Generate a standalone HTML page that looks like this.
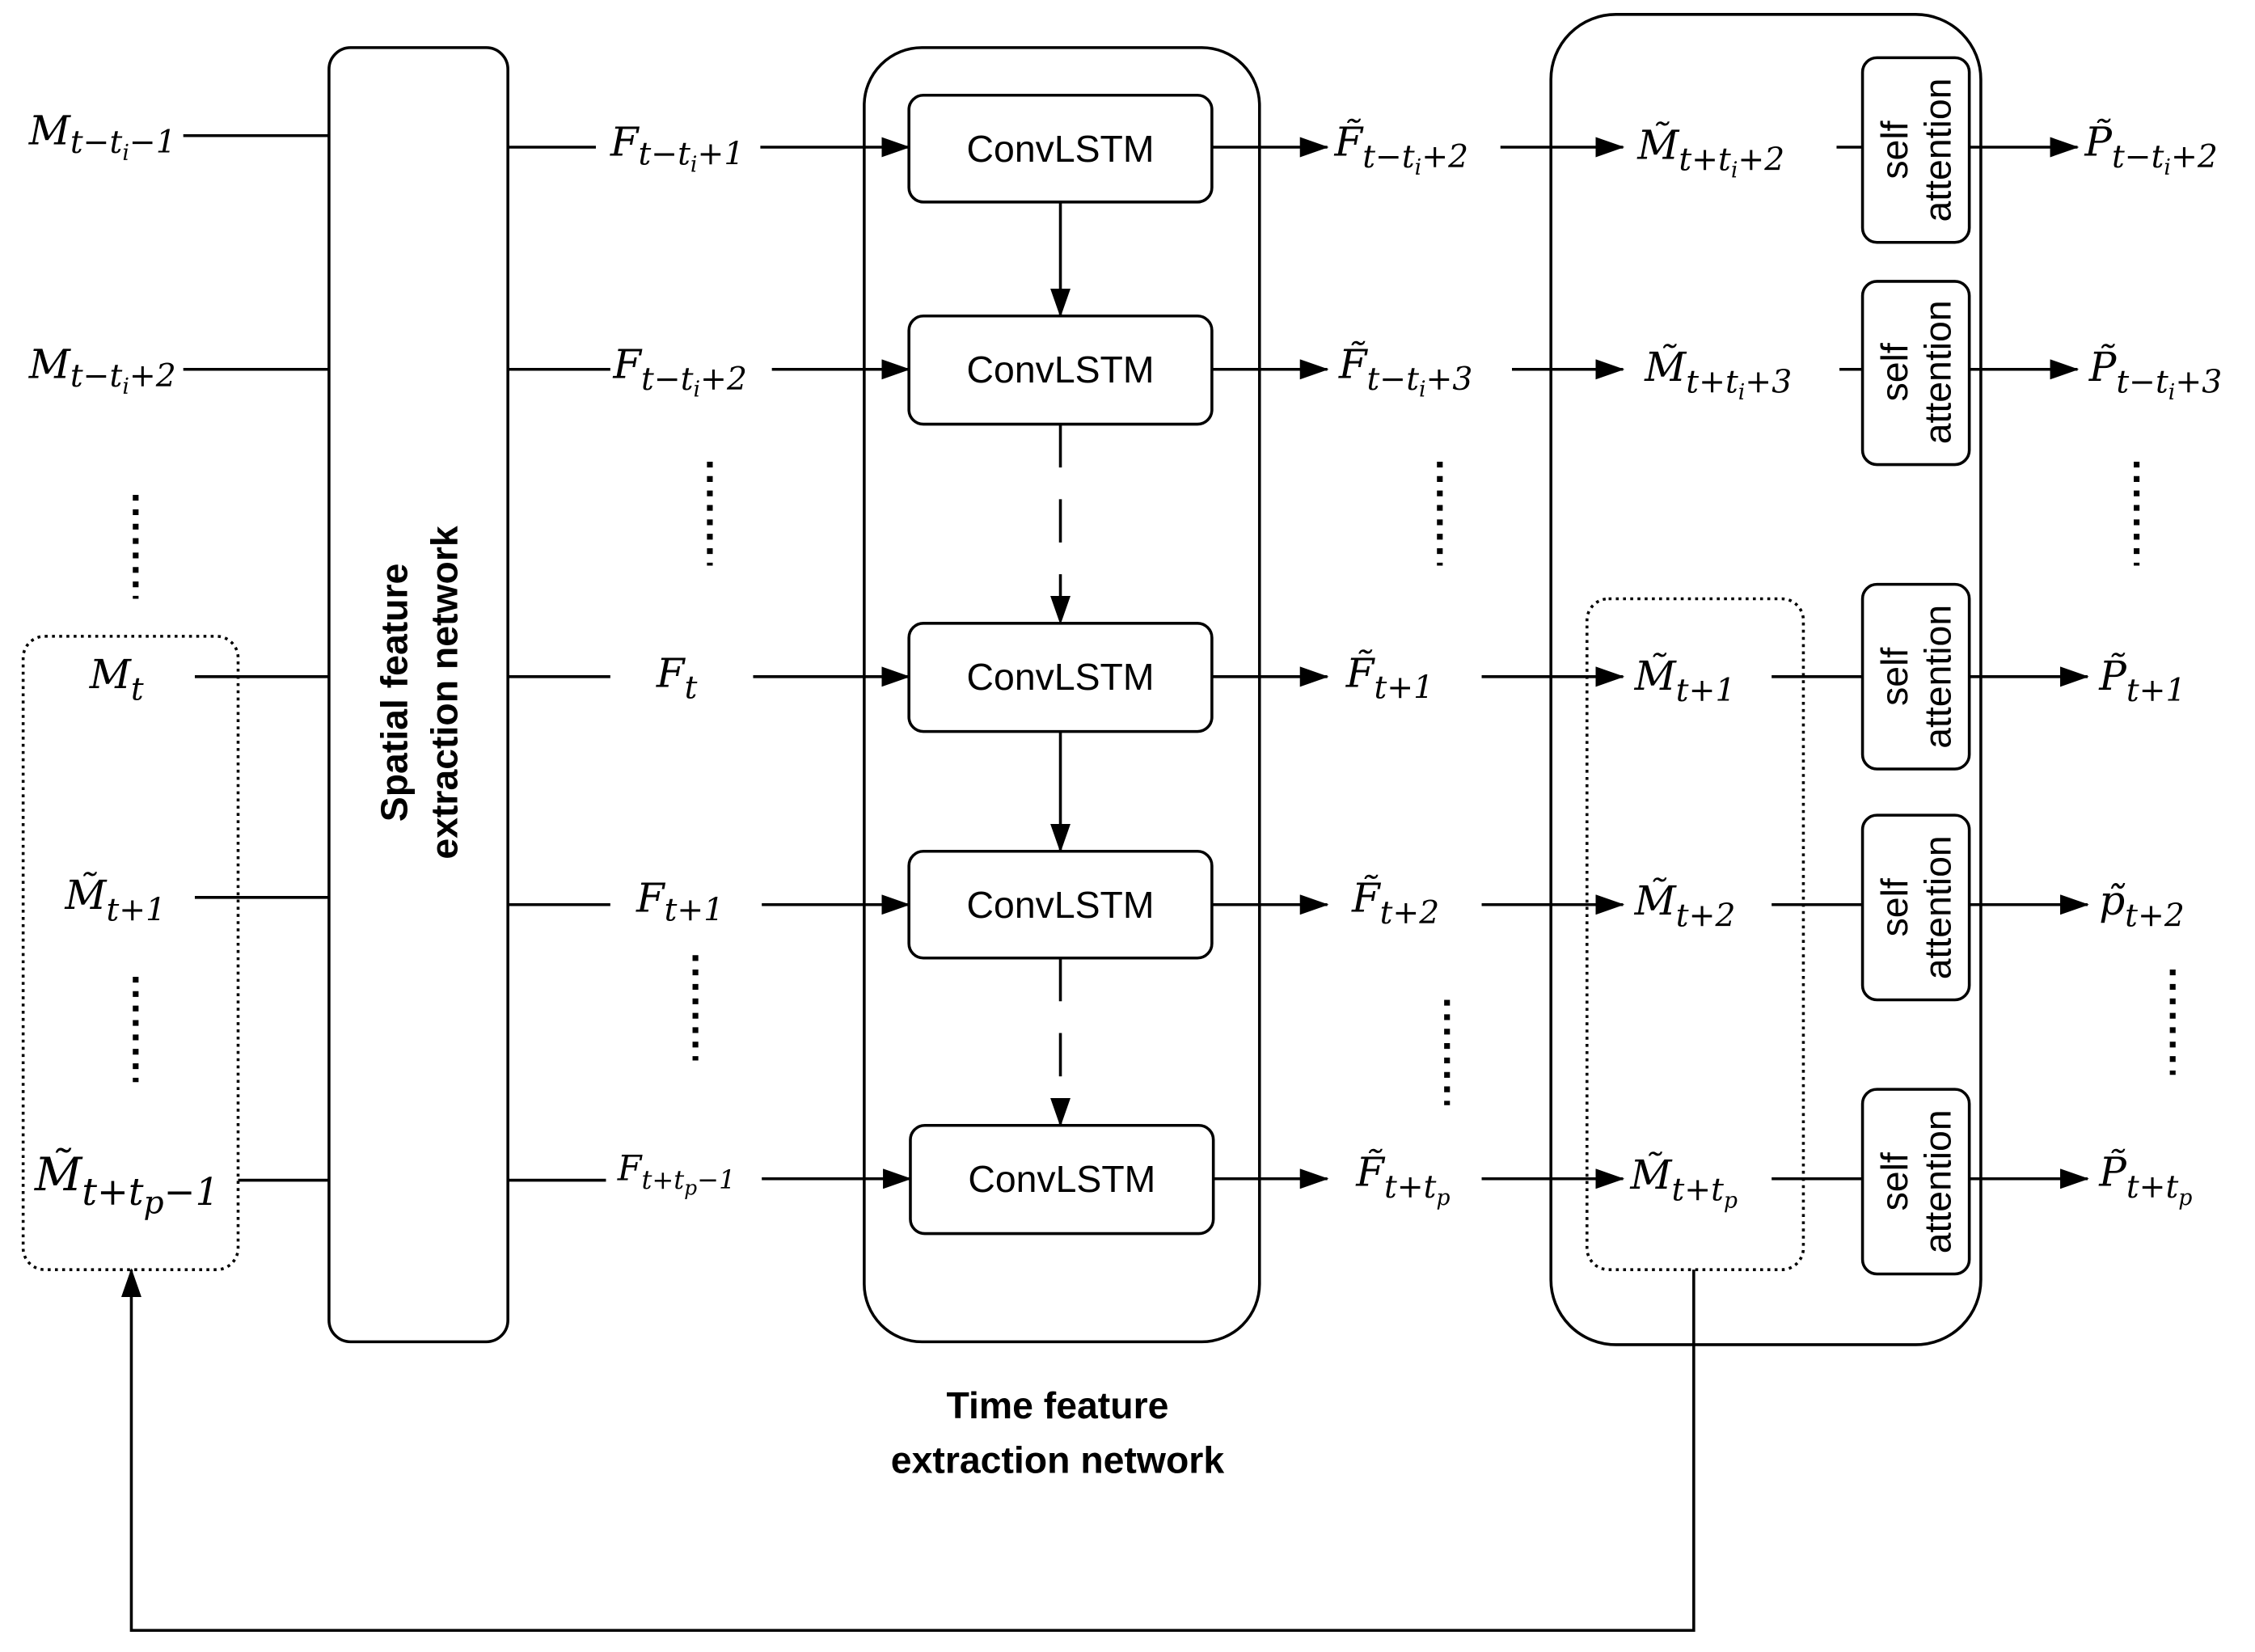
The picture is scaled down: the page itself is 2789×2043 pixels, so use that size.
<!DOCTYPE html>
<html><head><meta charset="utf-8"><style>
html,body{margin:0;padding:0;background:#fff;}
svg{display:block}
.m{font-family:"DejaVu Serif","Liberation Serif",serif;font-style:italic;font-size:28px;}
.s{font-size:22px;}
.c{font-family:"Liberation Sans",sans-serif;font-size:26px;}
.b{font-family:"Liberation Sans",sans-serif;font-size:26px;font-weight:bold;}
</style></head><body>
<svg width="2789" height="2043" viewBox="0 0 1563 1145" xmlns="http://www.w3.org/2000/svg">
<defs>
<marker id="A" markerWidth="20" markerHeight="14" refX="19" refY="7" orient="auto" markerUnits="userSpaceOnUse"><path d="M0,0 L20,7 L0,14 z" fill="#000"/></marker></defs>
<g fill="none" stroke="#000" stroke-width="2">
<rect x="228" y="33" width="124" height="897" rx="15"/>
<rect x="599" y="33" width="274" height="897" rx="40"/>
<rect x="1075" y="10" width="298" height="922" rx="45"/>
<rect x="16" y="441" width="149" height="439" rx="15" stroke-dasharray="2,3"/>
<rect x="1100" y="415" width="150" height="465" rx="15" stroke-dasharray="2,3"/>
<rect x="630" y="66" width="210" height="74" rx="10"/>
<rect x="630" y="219" width="210" height="75" rx="10"/>
<rect x="630" y="432" width="210" height="75" rx="10"/>
<rect x="630" y="590" width="210" height="74" rx="10"/>
<rect x="631" y="780" width="210" height="75" rx="10"/>
<rect x="1291" y="40" width="74" height="128" rx="10"/>
<rect x="1291" y="195" width="74" height="127" rx="10"/>
<rect x="1291" y="405" width="74" height="128" rx="10"/>
<rect x="1291" y="565" width="74" height="128" rx="10"/>
<rect x="1291" y="755" width="74" height="128" rx="10"/>
<path d="M127 94H228M127 256H228M135 469H228M135 622H228M165 818H228"/>
<path d="M352 102H413M352 256H423M352 469H423M352 627H423M352 818H420"/>
<g marker-end="url(#A)">
<path d="M527 102H630"/><path d="M535 256H630"/><path d="M522 469H630"/><path d="M528 627H630"/><path d="M528 817H631"/>
<path d="M840 102H920"/><path d="M840 256H920"/><path d="M840 469H920"/><path d="M840 627H920"/><path d="M841 817H920"/>
<path d="M1040 102H1125"/><path d="M1048 256H1125"/><path d="M1027 469H1125"/><path d="M1027 627H1125"/><path d="M1027 817H1125"/>
<path d="M1365 102H1440"/><path d="M1365 256H1440"/><path d="M1365 469H1447"/><path d="M1365 627H1447"/><path d="M1365 817H1447"/>
<path d="M735 140V219"/><path d="M735 507V590"/>
<path d="M735 294V432" stroke-dasharray="30,22"/><path d="M735 664V780" stroke-dasharray="30,22"/>
<path d="M1174 880V1130H91V880"/>
</g>
<path d="M1273 102H1291M1275 256H1291M1228 469H1291M1228 627H1291M1228 817H1291"/>
<g stroke-width="4" stroke-dasharray="4,6">
<path d="M94 343V415M492 320V392M998 320V392M1481 320V392M94 677V750M482 662V735M1003 693V766M1506 672V745"/>
</g>
</g>
<g class="m">
<text x="20" y="100">M<tspan class="s" dy="6">t−t</tspan><tspan font-size="15" dy="5">i</tspan><tspan class="s" dy="-5">−1</tspan></text>
<text x="20" y="262">M<tspan class="s" dy="6">t−t</tspan><tspan font-size="15" dy="5">i</tspan><tspan class="s" dy="-5">+2</tspan></text>
<text x="62" y="477">M<tspan class="s" dy="8">t</tspan></text>
<text x="45" y="630">M̃<tspan class="s" dy="8">t+1</tspan></text>
<text x="24" y="825" font-size="32">M̃<tspan font-size="26" dy="10">t+t</tspan><tspan class="s" dy="6">p</tspan><tspan font-size="26" dy="-6">−1</tspan></text>
<text x="423" y="108">F<tspan class="s" dy="6">t−t</tspan><tspan font-size="15" dy="5">i</tspan><tspan class="s" dy="-5">+1</tspan></text>
<text x="425" y="262">F<tspan class="s" dy="8">t−t</tspan><tspan font-size="15" dy="5">i</tspan><tspan class="s" dy="-5">+2</tspan></text>
<text x="455" y="476">F<tspan class="s" dy="8">t</tspan></text>
<text x="441" y="632">F<tspan class="s" dy="6">t+1</tspan></text>
<text x="428" y="818" font-size="24">F<tspan font-size="18" dy="6">t+t</tspan><tspan font-size="14" dy="4">p</tspan><tspan font-size="18" dy="-4">−1</tspan></text>
<text x="925" y="108">F̃<tspan class="s" dy="8">t−t</tspan><tspan font-size="15" dy="5">i</tspan><tspan class="s" dy="-5">+2</tspan></text>
<text x="928" y="262">F̃<tspan class="s" dy="8">t−t</tspan><tspan font-size="15" dy="5">i</tspan><tspan class="s" dy="-5">+3</tspan></text>
<text x="933" y="476">F̃<tspan class="s" dy="8">t+1</tspan></text>
<text x="937" y="632">F̃<tspan class="s" dy="8">t+2</tspan></text>
<text x="940" y="822">F̃<tspan class="s" dy="8">t+t</tspan><tspan font-size="15" dy="5">p</tspan></text>
<text x="1135" y="110">M̃<tspan class="s" dy="8">t+t</tspan><tspan font-size="15" dy="5">i</tspan><tspan class="s" dy="-5">+2</tspan></text>
<text x="1140" y="264">M̃<tspan class="s" dy="8">t+t</tspan><tspan font-size="15" dy="5">i</tspan><tspan class="s" dy="-5">+3</tspan></text>
<text x="1133" y="478">M̃<tspan class="s" dy="8">t+1</tspan></text>
<text x="1133" y="634">M̃<tspan class="s" dy="8">t+2</tspan></text>
<text x="1130" y="824">M̃<tspan class="s" dy="8">t+t</tspan><tspan font-size="15" dy="5">p</tspan></text>
<text x="1445" y="108">P̃<tspan class="s" dy="8">t−t</tspan><tspan font-size="15" dy="5">i</tspan><tspan class="s" dy="-5">+2</tspan></text>
<text x="1448" y="264">P̃<tspan class="s" dy="8">t−t</tspan><tspan font-size="15" dy="5">i</tspan><tspan class="s" dy="-5">+3</tspan></text>
<text x="1455" y="478">P̃<tspan class="s" dy="8">t+1</tspan></text>
<text x="1455" y="634">p̃<tspan class="s" dy="8">t+2</tspan></text>
<text x="1455" y="822">P̃<tspan class="s" dy="8">t+t</tspan><tspan font-size="15" dy="5">p</tspan></text>
</g>
<g class="c" text-anchor="middle">
<text x="735" y="112">ConvLSTM</text>
<text x="735" y="265">ConvLSTM</text>
<text x="735" y="478">ConvLSTM</text>
<text x="735" y="636">ConvLSTM</text>
<text x="736" y="826">ConvLSTM</text>
</g>
<g class="c" text-anchor="middle" font-size="24">
<g transform="translate(1328,104) rotate(-90)"><text y="-6">self</text><text y="24">attention</text></g>
<g transform="translate(1328,258) rotate(-90)"><text y="-6">self</text><text y="24">attention</text></g>
<g transform="translate(1328,469) rotate(-90)"><text y="-6">self</text><text y="24">attention</text></g>
<g transform="translate(1328,629) rotate(-90)"><text y="-6">self</text><text y="24">attention</text></g>
<g transform="translate(1328,819) rotate(-90)"><text y="-6">self</text><text y="24">attention</text></g>
</g>
<g class="b" text-anchor="middle">
<g transform="translate(290,480) rotate(-90)"><text y="-8">Spatial feature</text><text y="27">extraction network</text></g>
<text x="733" y="983">Time feature</text>
<text x="733" y="1021">extraction network</text>
</g>
</svg>
</body></html>
